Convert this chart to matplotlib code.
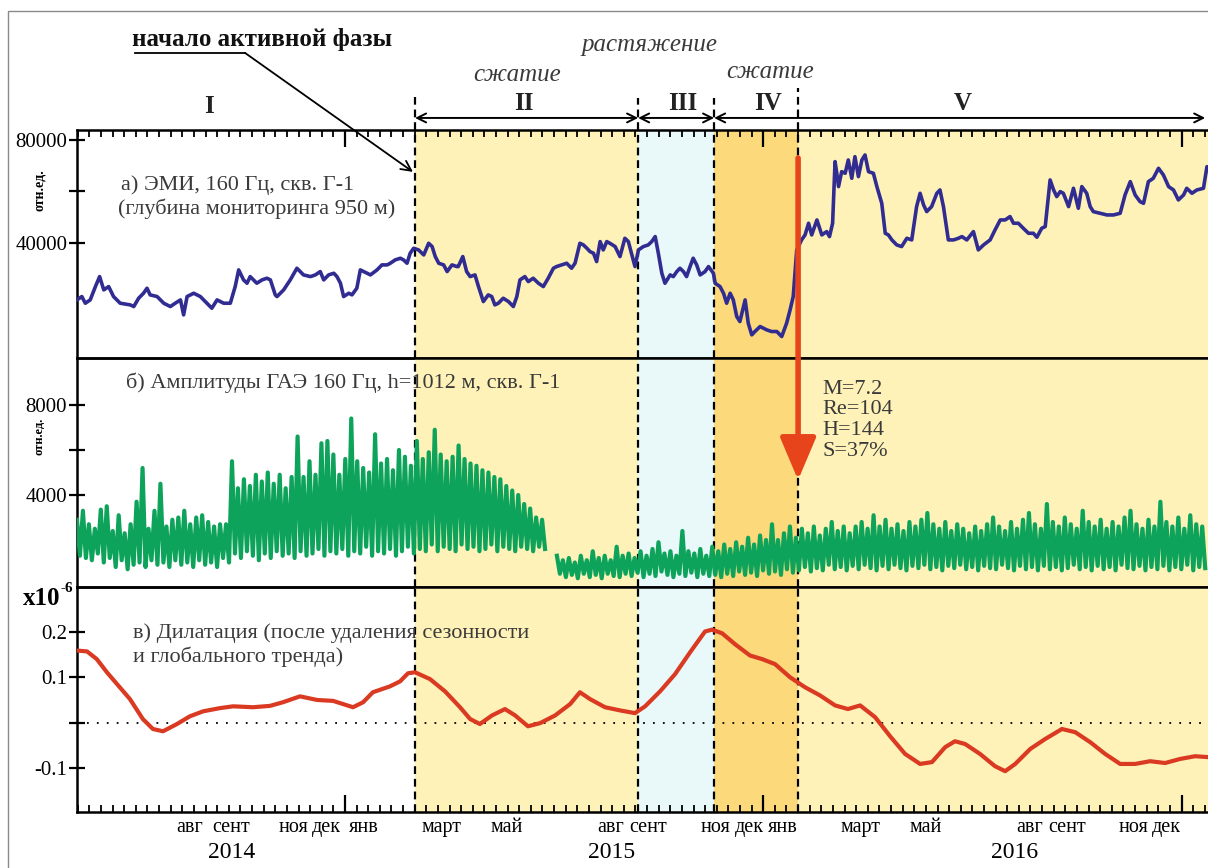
import numpy as np
import matplotlib.pyplot as plt
from matplotlib.patches import Rectangle

plt.rcParams['font.family'] = ['Liberation Serif', 'DejaVu Serif']

# ==============================
# DATA  (time = months counted from 1 Jan 2014)
# ==============================

X_LEFT, X_RIGHT = 4.31, 36.76

# phase boundaries: start of active phase, II/III, III/IV, IV/V
phase_bounds = [14.01, 20.41, 22.59, 25.0]

# а) ЭМИ, 160 Гц
emi_t = [4.31, 4.45, 4.55, 4.69, 4.84, 4.96, 5.08, 5.22, 5.36, 5.55, 5.84, 5.94, 6.08, 6.22,
         6.32, 6.41, 6.61, 6.80, 6.99, 7.13, 7.28, 7.37, 7.47, 7.66, 7.85, 8.04, 8.18, 8.33,
         8.52, 8.71, 8.85, 8.95, 9.09, 9.19, 9.28, 9.47, 9.62, 9.76, 9.86, 10.00, 10.05, 10.24,
         10.43, 10.62, 10.81, 11.01, 11.15, 11.29, 11.39, 11.53, 11.68, 11.77, 11.87, 11.96,
         12.11, 12.20, 12.34, 12.44, 12.63, 12.73, 12.92, 13.06, 13.21, 13.30, 13.44, 13.59,
         13.68, 13.78, 13.87, 13.97, 14.11, 14.26, 14.40, 14.50, 14.59, 14.69, 14.83, 14.93,
         15.07, 15.21, 15.25, 15.38, 15.49, 15.59, 15.73, 15.83, 15.97, 16.11, 16.21, 16.30,
         16.40, 16.54, 16.69, 16.83, 16.93, 17.02, 17.16, 17.26, 17.40, 17.55, 17.69, 17.83,
         17.98, 18.07, 18.22, 18.36, 18.50, 18.60, 18.74, 18.84, 18.94, 19.03, 19.13, 19.22,
         19.32, 19.41, 19.51, 19.60, 19.75, 19.89, 20.03, 20.13, 20.23, 20.32, 20.42, 20.56,
         20.70, 20.80, 20.90, 20.99, 21.09, 21.18, 21.33, 21.42, 21.52, 21.61, 21.71, 21.80,
         21.90, 21.99, 22.09, 22.19, 22.33, 22.43, 22.57, 22.62, 22.76, 22.86, 22.95, 23.05,
         23.14, 23.24, 23.33, 23.48, 23.57, 23.67, 23.76, 23.91, 24.10, 24.24, 24.39, 24.53,
         24.67, 24.77, 24.86, 24.96, 25.10, 25.20, 25.30, 25.39, 25.54, 25.68, 25.82, 25.90,
         25.99, 26.06, 26.11, 26.16, 26.25, 26.35, 26.44, 26.54, 26.63, 26.73, 26.83, 26.92,
         27.02, 27.16, 27.26, 27.40, 27.50, 27.59, 27.69, 27.83, 27.97, 28.12, 28.26, 28.40,
         28.50, 28.60, 28.69, 28.83, 28.98, 29.07, 29.17, 29.31, 29.46, 29.60, 29.70, 29.84,
         30.03, 30.17, 30.32, 30.51, 30.65, 30.80, 30.94, 31.08, 31.18, 31.32, 31.46, 31.61,
         31.75, 31.85, 31.99, 32.09, 32.23, 32.33, 32.42, 32.52, 32.61, 32.76, 32.90, 33.04,
         33.14, 33.28, 33.38, 33.47, 33.66, 33.86, 34.05, 34.24, 34.38, 34.53, 34.67, 34.81,
         34.91, 35.05, 35.19, 35.34, 35.48, 35.63, 35.77, 35.91, 36.06, 36.15, 36.30, 36.44,
         36.63, 36.73, 36.76]
emi_v = [17860, 19160, 16570, 17860, 23040, 26920, 21750, 23040, 19160, 16570, 15920, 15280,
         18510, 20450, 22400, 19810, 19160, 16570, 15280, 16570, 17860, 12040, 19160, 20450,
         19160, 16570, 14630, 17860, 16570, 16570, 23040, 29520, 25630, 24340, 26920, 24340,
         25630, 26280, 25630, 19810, 19160, 21750, 25630, 30160, 27570, 26920, 27570, 28870,
         25630, 27570, 28220, 26920, 24340, 19160, 20450, 19810, 22400, 29520, 28220, 27570,
         29520, 31460, 31460, 32100, 33400, 34050, 33400, 32100, 35990, 37930, 37280, 35340,
         39870, 38580, 34690, 32100, 31460, 28870, 31460, 30810, 30810, 34690, 28870, 26920,
         27570, 23040, 17220, 19810, 19160, 15920, 16570, 18510, 17220, 15280, 19160, 25630,
         26920, 24980, 26280, 24340, 23040, 26280, 30160, 30810, 31460, 32100, 30160, 32100,
         39870, 39220, 37930, 36630, 35990, 32750, 40520, 37280, 40520, 39870, 38580, 34690,
         41810, 40520, 35340, 30810, 37280, 38580, 39220, 40520, 42460, 35990, 28220, 24340,
         27570, 26920, 28870, 30160, 28870, 26920, 30810, 34050, 31460, 27570, 28870, 30810,
         28220, 24340, 23040, 20450, 16570, 20450, 17860, 11390, 9450, 17860, 8800, 4270,
         5570, 7510, 6210, 5570, 5570, 3620, 8800, 13980, 19160, 37280, 41170, 43110,
         47640, 43110, 48930, 43110, 44400, 42460, 47640, 71590, 67060, 61880, 67700, 67060,
         72230, 65110, 73530, 65760, 72230, 74180, 67700, 67060, 61880, 55400, 43750, 43110,
         41170, 39220, 38580, 41810, 41170, 54110, 59290, 54760, 52170, 54110, 59290, 60580,
         54110, 41170, 41170, 41810, 42460, 41170, 44400, 37280, 39220, 41170, 45050, 48930,
         48930, 50230, 47640, 47640, 45700, 43750, 43750, 42200, 45700, 46340, 64470, 60580,
         57990, 59940, 59290, 54110, 61230, 53460, 61880, 59290, 54110, 52170, 51520, 50870,
         50870, 51520, 58640, 63820, 58640, 56050, 55400, 63820, 65110, 69000, 66410, 61880,
         60580, 56700, 58640, 61230, 59290, 60580, 61230, 69640, 68350]

# б) Амплитуды ГАЭ: daily amplitudes as (peak, trough) pairs, two recording segments
gae1_span = (4.31, 17.74)
gae1_hi = [2900, 3300, 2700, 2500, 3350, 3500, 2400, 3100, 2300, 2700, 3700, 5200, 2500, 3300,
           4500, 2600, 2900, 3000, 3300, 2700, 3000, 3100, 2800, 2600, 2700, 2700, 5500, 4300,
           4700, 4400, 4900, 4600, 5000, 4500, 4900, 4300, 4800, 6600, 4800, 5500, 4900, 6300,
           6400, 5800, 4900, 5600, 7400, 5500, 5200, 5000, 6700, 5400, 5600, 5100, 6000, 5700,
           5300, 6400, 5600, 5900, 6900, 5800, 5500, 5700, 6200, 5600, 5400, 5300, 5100, 5000,
           4800, 4700, 4400, 4200, 4000, 3600, 3400, 3000, 2900]
gae1_lo = [1300, 1200, 1100, 1400, 1000, 1200, 800, 1100, 700, 900, 1000, 800, 1100, 900,
           1000, 800, 1100, 900, 1000, 800, 1100, 900, 1000, 800, 1200, 1000, 1400, 1200,
           1500, 1300, 1100, 1400, 1200, 1500, 1300, 1400, 1200, 1500, 1300, 1400, 1600, 1300,
           1500, 1400, 1600, 1300, 1500, 1400, 1700, 1300, 1500, 1400, 1600, 1300, 1500, 1700,
           1400, 1600, 1500, 1800, 1500, 1700, 1600, 1500, 1800, 1600, 1700, 1500, 1600, 1800,
           1500, 1700, 1600, 1500, 1700, 1600, 1500, 1700, 1600]
gae2_span = (18.08, 36.68)
gae2_hi = [1300, 1100, 1200, 1000, 1300, 1100, 1500, 1200, 1300, 1100,
           1700, 1300, 1400, 1200, 1500, 1300, 1600, 1900, 1400, 1500,
           1300, 2400, 1500, 1400, 1600, 1300, 1700, 1500, 1800, 1600,
           1900, 1700, 2100, 1800, 2200, 2000, 2700, 2000, 2300, 2600,
           2100, 2500, 2300, 2600, 2200, 2500, 2800, 2400, 2600, 2300,
           2600, 2800, 2500, 3100, 2600, 2900, 2500, 2700, 2400, 2800,
           2600, 2900, 3200, 2700, 2500, 2800, 2400, 2700, 2500, 2300,
           2600, 2400, 2700, 3000, 2600, 2400, 2800, 2500, 2900, 3200,
           2700, 2500, 3600, 2800, 2600, 3000, 2700, 2500, 3300, 2800,
           2600, 2900, 2500, 2800, 2600, 3000, 3300, 2700, 2500, 2900,
           2600, 3700, 2800, 2600, 3000, 2500, 3100, 2700, 2600]
gae2_lo = [500, 350, 450, 300, 500, 350, 450, 300, 500, 400,
           350, 500, 400, 550, 350, 500, 400, 600, 450, 350,
           500, 400, 550, 350, 500, 400, 450, 350, 500, 400,
           600, 450, 550, 400, 650, 500, 600, 450, 700, 550,
           650, 800, 600, 750, 650, 900, 700, 800, 650, 850,
           700, 900, 750, 650, 850, 700, 900, 750, 650, 850,
           750, 900, 700, 800, 650, 850, 750, 900, 700, 800,
           650, 850, 750, 700, 900, 750, 650, 850, 700, 800,
           650, 850, 700, 800, 650, 750, 900, 700, 800, 650,
           850, 700, 800, 650, 900, 750, 700, 850, 650, 800,
           700, 850, 650, 800, 700, 900, 650, 800, 750]

# в) Дилатация, x10^-6
dil_t = [4.31, 4.60, 4.88, 5.17, 5.46, 5.83, 6.20, 6.49, 6.78, 7.18, 7.55, 7.93, 8.41, 8.79,
         9.36, 9.85, 10.22, 10.71, 11.20, 11.66, 12.23, 12.52, 12.80, 13.29, 13.58, 13.81,
         14.01, 14.44, 14.87, 15.30, 15.59, 15.87, 16.22, 16.59, 16.88, 17.25, 17.60, 18.03,
         18.46, 18.74, 19.03, 19.46, 19.89, 20.32, 20.61, 21.04, 21.47, 21.90, 22.33, 22.53,
         22.82, 23.19, 23.62, 23.97, 24.34, 24.77, 25.20, 25.63, 26.06, 26.43, 26.78, 27.21,
         27.64, 28.07, 28.50, 28.84, 29.22, 29.50, 29.79, 30.22, 30.65, 30.94, 31.23, 31.66,
         32.09, 32.57, 32.95, 33.38, 33.81, 34.24, 34.67, 35.10, 35.53, 35.96, 36.39, 36.76]
dil_v = [0.159, 0.157, 0.140, 0.111, 0.085, 0.052, 0.008, -0.014, -0.019, -0.003, 0.014, 0.025,
         0.032, 0.036, 0.034, 0.037, 0.045, 0.058, 0.050, 0.048, 0.034, 0.045, 0.067, 0.080,
         0.091, 0.109, 0.111, 0.096, 0.069, 0.034, 0.008, -0.003, 0.016, 0.030, 0.016, -0.008,
         -0.001, 0.016, 0.041, 0.067, 0.052, 0.034, 0.027, 0.021, 0.036, 0.069, 0.107, 0.155,
         0.201, 0.205, 0.197, 0.173, 0.148, 0.140, 0.129, 0.100, 0.078, 0.060, 0.038, 0.030,
         0.038, 0.012, -0.030, -0.069, -0.091, -0.087, -0.054, -0.041, -0.047, -0.069, -0.096,
         -0.107, -0.091, -0.058, -0.036, -0.014, -0.021, -0.043, -0.069, -0.091, -0.091, -0.085,
         -0.089, -0.080, -0.074, -0.076]

# axis labels
month_names = ['авг', 'сент', 'ноя', 'дек', 'янв', 'март', 'май', 'авг', 'сент', 'ноя', 'дек',
               'янв', 'март', 'май', 'авг', 'сент', 'ноя', 'дек']
month_pos = [7.55, 8.73, 10.51, 11.48, 12.55, 14.78, 16.65, 19.63, 20.69, 22.62, 23.59, 24.57,
             26.78, 28.67, 31.63, 32.72, 34.61, 35.56]
year_names = ['2014', '2015', '2016']
year_pos = [8.75, 19.65, 31.2]
quake_params = 'M=7.2\nRe=104\nH=144\nS=37%'

# ==============================
# STYLE
# ==============================
C_EMI = '#312C91'
C_GAE = '#0DA35B'
C_DIL = '#DA3A22'
C_ARROW = '#E8441C'
C_TXT = '#3A3A3A'
shade = ['#FFF2B8', '#E9F8F8', '#FCD97A', '#FFF2B8']

fig = plt.figure(figsize=(12.08, 8.68), dpi=100)
ax_a = fig.add_axes([0.0637, 0.5876, 0.9363, 0.2627])
ax_b = fig.add_axes([0.0637, 0.3237, 0.9363, 0.2639])
ax_c = fig.add_axes([0.0637, 0.0645, 0.9363, 0.2592])

edges = phase_bounds + [X_RIGHT + 1]
for ax in (ax_a, ax_b, ax_c):
    ax.patch.set_alpha(0)
    for i in range(4):
        ax.axvspan(edges[i], edges[i + 1], color=shade[i], lw=0, zorder=0)
    for b in phase_bounds:
        ax.axvline(b, color='k', lw=1.6, ls=(0, (3.5, 2.2)), zorder=1)
    ax.spines['right'].set_visible(False)
    for s in ax.spines.values():
        s.set_linewidth(1.8)
    ax.tick_params(axis='y', direction='inout', length=12, width=1.6, labelsize=15, pad=1)
    ax.set_xticks([12, 24, 36])
    ax.set_xticks(np.arange(0, 37, 1 / 3), minor=True)
    ax.set_xlim(X_LEFT, X_RIGHT)

# --- panel a
ax_a.plot(emi_t, emi_v, color=C_EMI, lw=2.6, zorder=3)
ax_a.set_ylim(-4700, 83900)
ax_a.set_yticks([40000, 60000, 80000])
ax_a.set_yticklabels(['40000', '', '80000'])
ax_a.xaxis.tick_top()
ax_a.tick_params(axis='x', which='major', direction='in', length=12, width=1.6, labeltop=False)
ax_a.tick_params(axis='x', which='minor', direction='in', length=5, width=1.3)
ax_a.text(5.56, 0.759, 'а) ЭМИ, 160 Гц, скв. Г-1', transform=ax_a.get_xaxis_transform(),
          fontsize=16, color=C_TXT, va='center')
ax_a.text(5.50, 0.654, '(глубина мониторинга 950 м)', transform=ax_a.get_xaxis_transform(),
          fontsize=16, color=C_TXT, va='center')

# --- panel b
for span, hi, lo in ((gae1_span, gae1_hi, gae1_lo), (gae2_span, gae2_hi, gae2_lo)):
    vals = np.column_stack([hi, lo]).ravel()
    t = np.linspace(span[0], span[1], len(vals))
    ax_b.plot(t, vals, color=C_GAE, lw=3.0, zorder=3)
ax_b.set_ylim(-90, 10090)
ax_b.set_yticks([4000, 6000, 8000])
ax_b.set_yticklabels(['4000', '', '8000'])
ax_b.tick_params(axis='x', which='both', bottom=False, top=False, labelbottom=False)
ax_b.text(5.72, 0.891, 'б) Амплитуды ГАЭ 160 Гц, h=1012 м, скв. Г-1',
          transform=ax_b.get_xaxis_transform(), fontsize=16, color=C_TXT, va='center', zorder=5)
ax_b.text(25.69, 0.905, quake_params, transform=ax_b.get_xaxis_transform(), fontsize=16,
          color=C_TXT, va='top', linespacing=1.12)

# --- panel c
ax_c.plot(dil_t, dil_v, color=C_DIL, lw=3, zorder=3)
ax_c.axhline(0, color='k', lw=1.3, ls=(0, (1, 4.5)), zorder=2)
ax_c.set_ylim(-0.197, 0.299)
ax_c.set_yticks([-0.1, 0, 0.1, 0.2])
ax_c.set_yticklabels(['-0.1', '', '0.1', '0.2'])
ax_c.tick_params(axis='x', which='major', direction='in', length=12, width=1.6, labelbottom=False)
ax_c.tick_params(axis='x', which='minor', direction='in', length=5, width=1.3)
ax_c.text(5.91, 0.796, 'в) Дилатация (после удаления сезонности',
          transform=ax_c.get_xaxis_transform(), fontsize=16, color=C_TXT, va='center')
ax_c.text(5.91, 0.689, 'и глобального тренда)', transform=ax_c.get_xaxis_transform(),
          fontsize=16, color=C_TXT, va='center')
trans_c = ax_c.get_xaxis_transform()
for name, m in zip(month_names, month_pos):
    ax_c.text(m, -0.071, name, transform=trans_c, fontsize=14.5, ha='center', va='center')
for name, m in zip(year_names, year_pos):
    ax_c.text(m, -0.178, name, transform=trans_c, fontsize=17, ha='center', va='center')

# --- phase annotations above panel a
trans_a = ax_a.get_xaxis_transform()
for b, top in zip(phase_bounds, [1.145, 1.14, 1.14, 1.185]):
    ax_a.plot([b, b], [1.0, top], transform=trans_a, clip_on=False, color='k', lw=1.6,
              ls=(0, (3.5, 2.2)))
arrow_spans = [(14.01, 20.41), (20.41, 22.59), (22.59, 36.68)]
for x0, x1 in arrow_spans:
    ax_a.annotate('', xy=(x1, 1.0526), xytext=(x0, 1.0526), xycoords=trans_a,
                  arrowprops=dict(arrowstyle='<->', lw=1.4, color='k', shrinkA=0, shrinkB=0,
                                  mutation_scale=16), annotation_clip=False)
for name, x, y in [('I', 8.10, 1.101), ('II', 17.14, 1.118), ('III', 21.70, 1.118),
                   ('IV', 24.14, 1.118), ('V', 29.73, 1.118)]:
    ax_a.text(x, y, name, transform=trans_a, fontsize=18, fontweight='bold', ha='center',
              va='center', color='#222222')
for name, x, y in [('сжатие', 16.94, 1.241), ('растяжение', 20.75, 1.373),
                   ('сжатие', 24.2, 1.254)]:
    ax_a.text(x, y, name, transform=trans_a, fontsize=18, style='italic', ha='center',
              va='center', color=C_TXT)
ax_a.text(9.62, 1.395, 'начало активной фазы', transform=trans_a, fontsize=18,
          fontweight='bold', ha='center', va='center', color='#111111')
ax_a.plot([5.97, 9.13], [1.338, 1.338], transform=trans_a, clip_on=False, color='k', lw=1.3)
ax_a.annotate('', xy=(13.95, 0.816), xytext=(9.13, 1.338), xycoords=trans_a,
              arrowprops=dict(arrowstyle='->', lw=1.3, color='k', shrinkA=0, shrinkB=0,
                              mutation_scale=18), annotation_clip=False, zorder=6)

# --- earthquake arrow (panel a -> panel b)
ax_b.annotate('', xy=(25.0, 0.467), xycoords=ax_b.get_xaxis_transform(),
              xytext=(25.0, 0.877), textcoords=trans_a,
              arrowprops=dict(arrowstyle='-|>,head_length=2.6,head_width=1.1', lw=4,
                              color=C_ARROW, shrinkA=0, shrinkB=0, mutation_scale=10),
              annotation_clip=False, zorder=6)

# --- figure texts
fig.text(0.0331, 0.781, 'отн.ед.', rotation=90, fontsize=10, fontweight='bold',
         ha='center', va='center')
fig.text(0.0331, 0.497, 'отн.ед.', rotation=90, fontsize=9, fontweight='bold',
         ha='center', va='center')
fig.text(0.019, 0.311, 'x10', fontsize=18, fontweight='bold', ha='left', va='center')
fig.text(0.0497, 0.3215, '-6', fontsize=11, fontweight='bold', ha='left', va='center')

fig.add_artist(Rectangle((8 / 1208, -0.1), 1.2, 1.1 - 11 / 868, transform=fig.transFigure,
                         fill=False, edgecolor='#8A8A8A', lw=1.0))

fig.savefig('out.png', dpi=100)
